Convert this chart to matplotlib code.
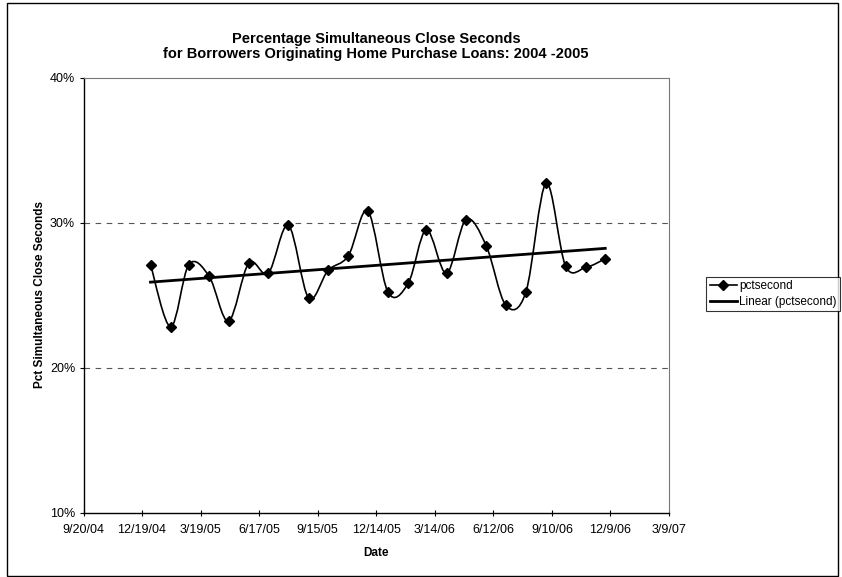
import datetime as dt
import numpy as np
import matplotlib
matplotlib.use("Agg")
import matplotlib.pyplot as plt
import matplotlib.dates as mdates
from matplotlib.path import Path
from matplotlib.patches import PathPatch, Rectangle
from matplotlib.lines import Line2D
from matplotlib.ticker import FixedLocator, FuncFormatter, PercentFormatter

plt.rcParams['font.family'] = ['Liberation Sans', 'DejaVu Sans']

# monthly observations, Jan 2005 - Dec 2006
months = [dt.date(2005 + i // 12, i % 12 + 1, 1) for i in range(24)]
pctsecond = [27.1, 22.8, 27.1, 26.3, 23.2, 27.2, 26.5, 29.8, 24.8, 26.7, 27.7, 30.8,
             25.2, 25.8, 29.5, 26.5, 30.2, 28.4, 24.3, 25.2, 32.7, 27.0, 26.9, 27.5]

tick_dates = [dt.date(2004, 9, 20) + dt.timedelta(days=90 * k) for k in range(11)]
y_ticks = [10, 20, 30, 40]

fig = plt.figure(figsize=(8.42, 5.77), dpi=100)
ax = fig.add_axes([83.5 / 842, 1 - 512.5 / 577, (669 - 83.5) / 842, (512.5 - 77.5) / 577])

x = mdates.date2num(months)
y = np.array(pctsecond)

# smoothed line like Excel (Catmull-Rom style Bezier segments)
verts = [(x[0], y[0])]
codes = [Path.MOVETO]
n = len(x)
for i in range(n - 1):
    p0 = (x[i - 1], y[i - 1]) if i > 0 else (x[i], y[i])
    p3 = (x[i + 2], y[i + 2]) if i + 2 < n else (x[i + 1], y[i + 1])
    c1 = (x[i] + (x[i + 1] - p0[0]) / 6, y[i] + (y[i + 1] - p0[1]) / 6)
    c2 = (x[i + 1] - (p3[0] - x[i]) / 6, y[i + 1] - (p3[1] - y[i]) / 6)
    verts += [c1, c2, (x[i + 1], y[i + 1])]
    codes += [Path.CURVE4] * 3
ax.add_patch(PathPatch(Path(verts, codes), facecolor='none', edgecolor='black', lw=1.2, zorder=3))
ax.plot(x, y, linestyle='none', marker='D', ms=5, color='black', zorder=4)

# linear trend
k, b = np.polyfit(x, y, 1)
ax.plot([x[0], x[-1]], [k * x[0] + b, k * x[-1] + b], color='black', lw=2.0, zorder=3)

ax.set_xlim(mdates.date2num(tick_dates[0]), mdates.date2num(tick_dates[-1]))
ax.set_ylim(10, 40)
ax.xaxis.set_major_locator(FixedLocator(mdates.date2num(tick_dates)))
ax.xaxis.set_major_formatter(FuncFormatter(
    lambda v, p: (lambda d: f"{d.month}/{d.day}/{d:%y}")(mdates.num2date(v))))
ax.set_yticks(y_ticks)
ax.yaxis.set_major_formatter(PercentFormatter(decimals=0))

for yy in [20, 30]:
    ax.axhline(yy, color='#555555', lw=0.8, linestyle=(0, (5, 5)), zorder=1)

for s in ['top', 'right']:
    ax.spines[s].set_color('#777777')
    ax.spines[s].set_linewidth(0.8)
for s in ['left', 'bottom']:
    ax.spines[s].set_color('black')
    ax.spines[s].set_linewidth(1.0)

ax.tick_params(axis='x', direction='inout', length=5, width=0.8, labelsize=9, pad=6)
ax.tick_params(axis='y', direction='out', length=3, width=0.8, labelsize=9, pad=3)

ax.set_xlabel('Date', fontsize=8.5, fontweight='bold', labelpad=8)
ax.set_ylabel('Pct Simultaneous Close Seconds', fontsize=8.5, fontweight='bold', labelpad=3)

fig.text(376 / 842, 1 - 39 / 577, 'Percentage Simultaneous Close Seconds',
         ha='center', va='center', fontsize=10.5, fontweight='bold')
fig.text(376 / 842, 1 - 54 / 577, 'for Borrowers Originating Home Purchase Loans: 2004 -2005',
         ha='center', va='center', fontsize=10.5, fontweight='bold')

handles = [Line2D([], [], color='black', lw=1.2, marker='D', ms=5),
           Line2D([], [], color='black', lw=2.0)]
leg = fig.legend(handles, ['pctsecond', 'Linear (pctsecond)'], loc='center left',
                 bbox_to_anchor=(706 / 842, 1 - 294 / 577), fontsize=8.5, frameon=True,
                 fancybox=False, handlelength=2.3, handletextpad=0.2, borderpad=0.3,
                 labelspacing=0.3, borderaxespad=0)
leg.get_frame().set_edgecolor('black')
leg.get_frame().set_linewidth(0.8)

fig.patches.append(Rectangle((7 / 842, 1 / 577), 831 / 842, 573 / 577, transform=fig.transFigure,
                             fill=False, edgecolor='black', lw=1.0))

fig.savefig('out.png', dpi=100)
